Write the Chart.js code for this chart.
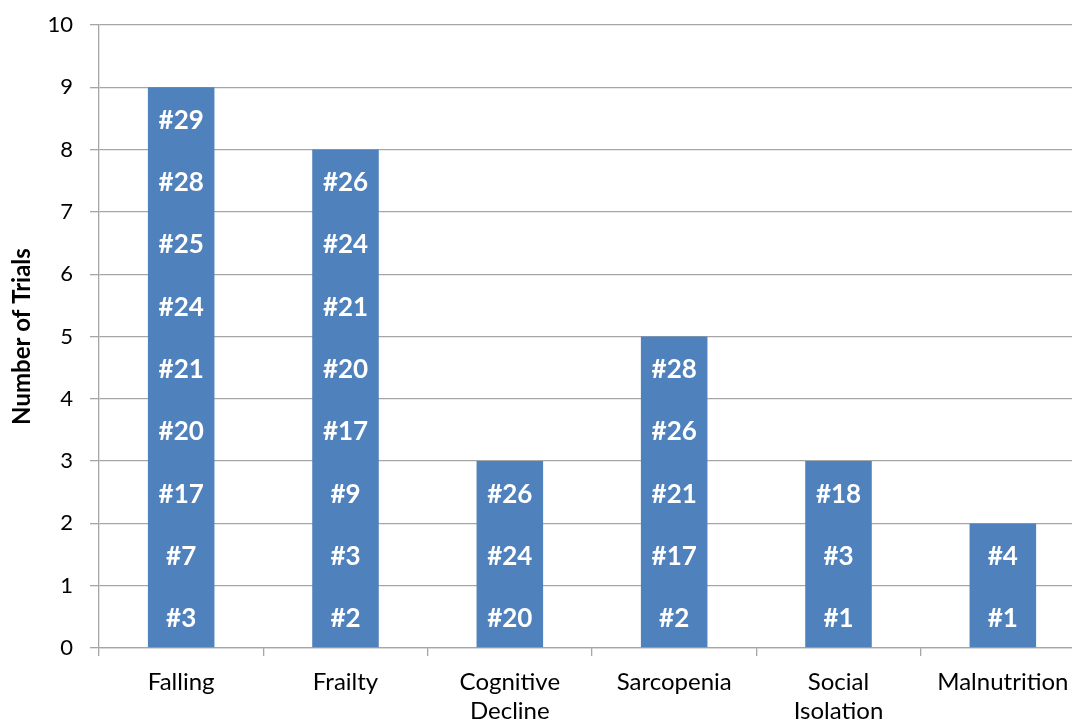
<!DOCTYPE html>
<html>
<head>
<meta charset="utf-8">
<script src="https://cdn.jsdelivr.net/npm/chart.js@4"></script>
<style>
html,body{margin:0;padding:0;background:#fff;overflow:hidden;}
#wrap{position:absolute;left:0;top:0;width:1085px;height:725px;}
</style>
</head>
<body>
<div id="wrap"><canvas id="c" width="1085" height="725"></canvas></div>
<script>
const categories = [["Falling"], ["Frailty"], ["Cognitive", "Decline"], ["Sarcopenia"], ["Social", "Isolation"], ["Malnutrition"]];
const trialCounts = [9, 8, 3, 5, 3, 2];
const yTicks = [0, 1, 2, 3, 4, 5, 6, 7, 8, 9, 10];
const fallingTrials = ["#3", "#7", "#17", "#20", "#21", "#24", "#25", "#28", "#29"];
const frailtyTrials = ["#2", "#3", "#9", "#17", "#20", "#21", "#24", "#26"];
const cognitiveTrials = ["#20", "#24", "#26"];
const sarcopeniaTrials = ["#2", "#17", "#21", "#26", "#28"];
const socialTrials = ["#1", "#3", "#18"];
const malnutritionTrials = ["#1", "#4"];
const trialLabels = [fallingTrials, frailtyTrials, cognitiveTrials, sarcopeniaTrials, socialTrials, malnutritionTrials];

const FONT = "Lato, 'Open Sans', sans-serif";

const labelPlugin = {
  id: 'trialLabels',
  afterDatasetsDraw(chart) {
    const ctx = chart.ctx;
    const meta = chart.getDatasetMeta(0);
    const ys = chart.scales.y;
    ctx.save();
    ctx.fillStyle = '#ffffff';
    ctx.font = "bold 26px " + FONT;
    ctx.textAlign = 'center';
    ctx.textBaseline = 'middle';
    meta.data.forEach((bar, i) => {
      trialLabels[i].forEach((lab, k) => {
        const y = ys.getPixelForValue(k + 0.5) + 2;
        ctx.fillText(lab, bar.x, y);
      });
    });
    ctx.restore();
  }
};

new Chart(document.getElementById('c'), {
  type: 'bar',
  data: {
    labels: categories,
    datasets: [{
      data: trialCounts,
      backgroundColor: '#4F81BD',
      borderWidth: 0,
      barPercentage: 0.405,
      categoryPercentage: 1.0
    }]
  },
  options: {
    responsive: false,
    animation: false,
    events: [],
    layout: { padding: { top: 25, left: 8, right: 0, bottom: 0 } },
    plugins: { legend: { display: false }, tooltip: { enabled: false } },
    scales: {
      y: {
        min: 0, max: 10,
        afterBuildTicks(axis) { axis.ticks = yTicks.map(v => ({ value: v })); },
        afterFit(axis) { axis.width = 91; axis.paddingTop = 0; axis.paddingBottom = 0; },
        ticks: { color: '#000', font: { family: FONT, size: 22 }, padding: 17 },
        grid: { color: '#A6A6A6', lineWidth: 1.3, tickLength: 9, drawTicks: true },
        border: { color: '#A6A6A6', width: 1.3 },
        title: { display: true, text: 'Number of Trials', color: '#000', font: { family: FONT, size: 24, weight: 'bold' }, padding: { top: 0, bottom: 11 } }
      },
      x: {
        offset: true,
        afterFit(axis) { axis.height = 77; axis.paddingLeft = 0; axis.paddingRight = 0; },
        ticks: { color: '#000', font: { family: FONT, size: 24, lineHeight: 1.2 }, padding: 12, maxRotation: 0 },
        grid: { offset: true, drawOnChartArea: false, drawTicks: true, tickLength: 8, color: '#A6A6A6', lineWidth: 1.3 },
        border: { color: '#A6A6A6', width: 1.3 }
      }
    }
  },
  plugins: [labelPlugin]
});
</script>
</body>
</html>
